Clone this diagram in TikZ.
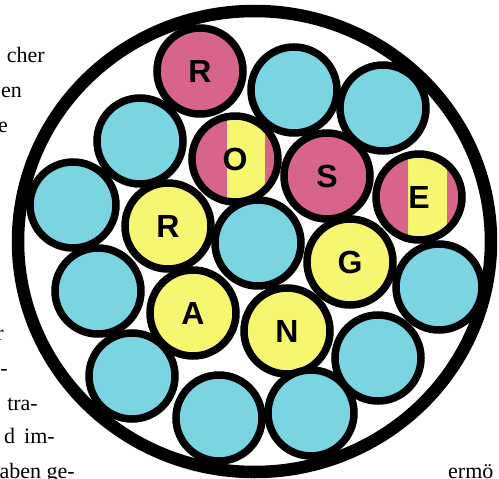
\documentclass[tikz,border=0pt]{standalone}
\usepackage{fontspec}
\setmainfont{Liberation Serif}
\newfontfamily\lettersf{Liberation Sans}
\definecolor{cyanc}{RGB}{122,212,225}
\definecolor{pinkc}{RGB}{216,100,140}
\definecolor{yelc}{RGB}{246,246,112}
\begin{document}
\begin{tikzpicture}[x=1pt,y=-1pt,
  ball/.style={circle,draw=black,line width=7.5pt,minimum size=86pt,inner sep=0pt,
    font=\lettersf\bfseries\fontsize{32}{32}\selectfont},
  cy/.style={ball,fill=cyanc},
  pk/.style={ball,fill=pinkc},
  yl/.style={ball,fill=yelc},
  pkyl/.style 2 args={ball,fill=pinkc,path picture={
    \fill[yelc] ([xshift=#1pt]path picture bounding box.south) rectangle
                ([xshift=#2pt]path picture bounding box.north);}},
  txt/.style={anchor=base east,inner sep=0pt,font=\fontsize{22}{22}\selectfont},
  txtw/.style={anchor=base west,inner sep=0pt,font=\fontsize{22}{22}\selectfont}]
\useasboundingbox (0,0) rectangle (499,479);
\fill[white] (0,0) rectangle (499,479);
% outer ring
\draw[line width=12.5pt] (254.5,241.5) ellipse [x radius=236.5, y radius=230.5];
% circles
\node[pk] (r1) at (200,71) {R};
\node[cy] (c1) at (294,90) {};
\node[cy] (c2) at (383,108) {};
\node[cy] (c3) at (140,141) {};
\node[cy] (c4) at (73,205) {};
\node[pkyl={-8}{30}] (o) at (235,159) {O};
\node[pk] (s) at (327,176) {S};
\node[pkyl={-11}{28}] (e) at (419,197) {E};
\node[yl] (r2) at (168,226) {R};
\node[cy] (c5) at (258,243) {};
\node[yl] (g) at (350,262) {G};
\node[cy] (c6) at (439,287) {};
\node[cy] (c7) at (98,291) {};
\node[yl] (a) at (193,313) {A};
\node[yl] (n) at (287,331) {N};
\node[cy] (c8) at (378,358) {};
\node[cy] (c9) at (132,376) {};
\node[cy] (c10) at (219,418) {};
\node[cy] (c11) at (311,413) {};
% surrounding text fragments
\node[txt] (t1) at (45,63) {cher};
\node[txt] (t2) at (22,97) {en};
\node[txt] (t3) at (8,132) {e};
\node[txt] (t4) at (4,340) {r};
\node[txt] (t5) at (8,375) {-};
\node[txt] (t6) at (38,410) {tra-};
\node[txt] (t7) at (55,443) {d\hspace{9pt}im-};
\node[txt] (t8) at (75,478) {aben ge-};
\node[txtw] (t9) at (448,478) {ermö};
\end{tikzpicture}
\end{document}
